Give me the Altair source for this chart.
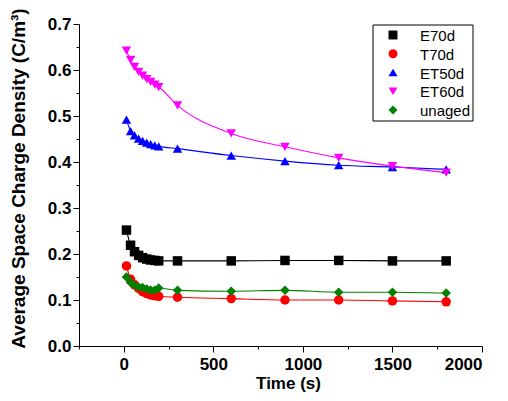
import altair as alt
import pandas as pd

# Time points (s)
times = [15, 38, 60, 83, 105, 128, 150, 173, 195, 300, 600, 900, 1200, 1500, 1800]

series_names = ["E70d", "T70d", "ET50d", "ET60d", "unaged"]

e70d = [0.252, 0.219, 0.205, 0.197, 0.192, 0.189, 0.187, 0.186, 0.185, 0.185, 0.185, 0.186, 0.186, 0.185, 0.185]
t70d = [0.174, 0.145, 0.133, 0.125, 0.118, 0.114, 0.111, 0.109, 0.108, 0.106, 0.103, 0.100, 0.100, 0.098, 0.096]
et50d = [0.492, 0.467, 0.458, 0.451, 0.446, 0.442, 0.439, 0.436, 0.434, 0.429, 0.414, 0.402, 0.393, 0.389, 0.384]
et60d = [0.642, 0.622, 0.607, 0.596, 0.588, 0.580, 0.574, 0.568, 0.563, 0.523, 0.462, 0.433, 0.409, 0.391, 0.377]
unaged = [0.150, 0.138, 0.132, 0.128, 0.127, 0.124, 0.122, 0.121, 0.126, 0.121, 0.119, 0.121, 0.117, 0.117, 0.115]

colors = ["#000000", "#FF0000", "#0000FF", "#FF00FF", "#008000"]
shapes = ["square", "circle", "triangle-up", "triangle-down", "diamond"]

rows = []
for name, vals in zip(series_names, [e70d, t70d, et50d, et60d, unaged]):
    for t, v in zip(times, vals):
        rows.append({"series": name, "time": t, "value": v})
df = pd.DataFrame(rows)
legend_df = pd.DataFrame({"series": series_names})

x_vals = [-250, 0, 250, 500, 750, 1000, 1250, 1500, 1750, 2000]
y_vals = [0.0, 0.05, 0.1, 0.15, 0.2, 0.25, 0.3, 0.35, 0.4, 0.45, 0.5, 0.55, 0.6, 0.65, 0.7]

font = "Liberation Sans"

x_enc = alt.X(
    "time:Q",
    scale=alt.Scale(domain=[-250, 2000], nice=False, zero=False),
    axis=alt.Axis(
        title="Time (s)",
        values=x_vals,
        labelExpr="datum.value % 500 == 0 && datum.value >= 0 ? format(datum.value, 'd') : ''",
        tickSize={"condition": {"test": "datum.value % 500 == 0", "value": 6}, "value": 3},
        labelPadding=4,
        labelFontSize=17,
        titleFontSize=17,
        titleX=209,
        titleY=29,
        titleBaseline="top",
        titleAlign="center",
    ),
)
y_enc = alt.Y(
    "value:Q",
    scale=alt.Scale(domain=[0, 0.7], nice=False, zero=False),
    axis=alt.Axis(
        title="Average Space Charge Density (C/m³)",
        values=y_vals,
        labelExpr="round(datum.value * 100) % 10 == 0 ? format(datum.value, '.1f') : ''",
        tickSize={"condition": {"test": "round(datum.value * 100) % 10 == 0", "value": 6}, "value": 3},
        labelPadding=2,
        labelFontSize=17,
        titleFontSize=19,
        titleX=-61,
        titleY=154,
        titleBaseline="middle",
        titleAlign="center",
    ),
)

color_scale = alt.Scale(domain=series_names, range=colors)
shape_scale = alt.Scale(domain=series_names, range=shapes)

lines = alt.Chart(df).mark_line(strokeWidth=1.1, interpolate="monotone").encode(
    x=x_enc,
    y=y_enc,
    color=alt.Color("series:N", scale=color_scale, legend=None),
    detail="series:N",
)

points = alt.Chart(df).mark_point(filled=True, size=90, opacity=1).encode(
    x=x_enc,
    y=y_enc,
    color=alt.Color("series:N", scale=color_scale, legend=None),
    shape=alt.Shape("series:N", scale=shape_scale, legend=None),
)

data_layer = alt.layer(lines, points)

# Legend drawn as its own layer (box, symbols, labels)
leg_y = alt.Y("series:N", scale=alt.Scale(domain=series_names, range=[11, 86], type="point", padding=0), axis=None)

legend_box = alt.Chart(legend_df).mark_rect(fill="white", stroke="black", strokeWidth=1).encode(
    x=alt.value(294), x2=alt.value(394), y=alt.value(1), y2=alt.value(97)
).transform_filter("datum.series == 'E70d'")

legend_points = alt.Chart(legend_df).mark_point(filled=True, size=80, opacity=1).encode(
    x=alt.value(314),
    y=leg_y,
    color=alt.Color("series:N", scale=color_scale, legend=None),
    shape=alt.Shape("series:N", scale=shape_scale, legend=None),
)

legend_text = alt.Chart(legend_df).mark_text(
    align="left", baseline="middle", font=font, fontSize=15, color="black", dy=1
).encode(
    x=alt.value(341),
    y=leg_y,
    text="series:N",
)

legend_layer = alt.layer(legend_box, legend_points, legend_text)

chart = (
    alt.layer(data_layer, legend_layer)
    .resolve_scale(y="independent")
    .properties(
        width=403,
        height=322,
        autosize=alt.AutoSizeParams(type="none"),
        padding={"left": 71, "top": 16, "right": 18, "bottom": 47},
    )
    .configure_view(stroke=None)
    .configure_axis(
        grid=False,
        domainColor="black",
        tickColor="black",
        labelFont=font,
        labelFontWeight="bold",
        labelColor="black",
        titleFont=font,
        titleFontWeight="bold",
        titleColor="black",
    )
)

chart.save("out.html", embed_options={"renderer": "svg", "actions": False})
